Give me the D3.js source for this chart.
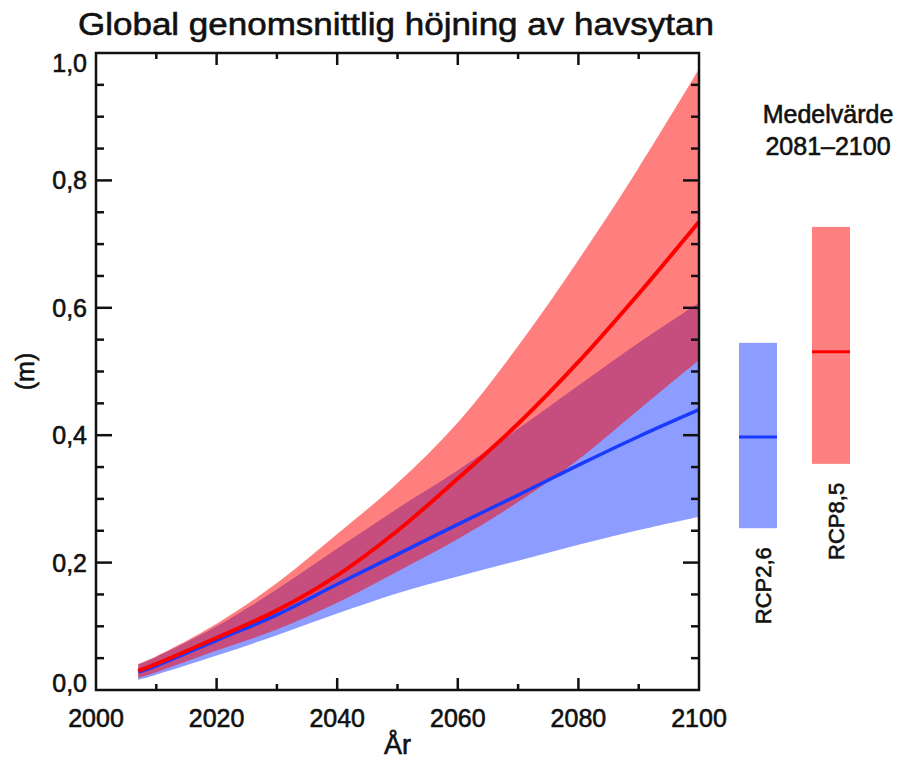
<!DOCTYPE html>
<html>
<head>
<meta charset="utf-8">
<script src="https://cdn.jsdelivr.net/npm/d3@7"></script>
<style>
  body { margin: 0; background: #fff; }
  text { font-family: "Liberation Sans", Arial, sans-serif; fill: #111; stroke: #111; stroke-width: 0.6px; }
</style>
</head>
<body>
<div id="chart"></div>
<script>
// data
const years = [2007, 2010, 2020, 2030, 2040, 2050, 2060, 2070, 2080, 2090, 2100];
const rcp26Mean = [0.028, 0.038, 0.078, 0.118, 0.166, 0.213, 0.26, 0.306, 0.353, 0.398, 0.44];
const rcp26Low  = [0.016, 0.024, 0.054, 0.086, 0.12, 0.152, 0.178, 0.203, 0.228, 0.251, 0.272];
const rcp26High = [0.04, 0.052, 0.1, 0.158, 0.222, 0.285, 0.345, 0.41, 0.478, 0.545, 0.608];
const rcp85Mean = [0.03, 0.041, 0.082, 0.125, 0.18, 0.25, 0.332, 0.418, 0.515, 0.622, 0.735];
const rcp85Low  = [0.019, 0.028, 0.062, 0.095, 0.137, 0.186, 0.237, 0.295, 0.362, 0.44, 0.518];
const rcp85High = [0.041, 0.053, 0.104, 0.168, 0.245, 0.325, 0.42, 0.54, 0.675, 0.82, 0.975];

// mean 2081-2100
const scenarios = ["RCP2,6", "RCP8,5"];
const periodMean = [0.397, 0.531];
const periodLow = [0.254, 0.355];
const periodHigh = [0.545, 0.727];

const xTicks = [2000, 2020, 2040, 2060, 2080, 2100];
const yTicks = [0, 0.2, 0.4, 0.6, 0.8, 1.0];

const W = 900, H = 762;
const m = { top: 53, right: 201, bottom: 72, left: 96 };

const svg = d3.select("#chart").append("svg").attr("width", W).attr("height", H);

const x = d3.scaleLinear().domain([2000, 2100]).range([m.left, W - m.right]);
const y = d3.scaleLinear().domain([0, 1]).range([H - m.bottom, m.top]);

const fmt = d => d3.format(".1f")(d).replace(".", ",");

// bands
const toRows = (lo, hi, mean) => years.map((yr, i) => ({ yr, lo: lo[i], hi: hi[i], mean: mean[i] }));
const r26 = toRows(rcp26Low, rcp26High, rcp26Mean);
const r85 = toRows(rcp85Low, rcp85High, rcp85Mean);

const curve = d3.curveCatmullRom.alpha(0.5);
const area = d3.area().x(d => x(d.yr)).y0(d => y(d.lo)).y1(d => y(d.hi)).curve(curve);
const line = d3.line().x(d => x(d.yr)).y(d => y(d.mean)).curve(curve);

svg.append("path").datum(r26).attr("d", area).attr("fill", "#8c9dff");
svg.append("path").datum(r85).attr("d", area).attr("fill", "#ff0000").attr("fill-opacity", 0.5);
svg.append("path").datum(r26).attr("d", line).attr("fill", "none").attr("stroke", "#1a3aff").attr("stroke-width", 3.5);
svg.append("path").datum(r85).attr("d", line).attr("fill", "none").attr("stroke", "#ff0000").attr("stroke-width", 4);

// frame + ticks (inside on all four sides)
const g = svg.append("g").attr("stroke", "#111").attr("stroke-width", 2.5);
g.append("rect").attr("x", x(2000)).attr("y", y(1)).attr("width", x(2100) - x(2000)).attr("height", y(0) - y(1))
  .attr("fill", "none");

const xMinor = d3.range(2010, 2100, 20);
const yMinor = d3.range(0.05, 1, 0.05).filter(v => Math.abs(v * 5 - Math.round(v * 5)) > 1e-6);

xTicks.slice(1, -1).forEach(t => {
  g.append("line").attr("x1", x(t)).attr("x2", x(t)).attr("y1", y(0)).attr("y2", y(0) - 12);
  g.append("line").attr("x1", x(t)).attr("x2", x(t)).attr("y1", y(1)).attr("y2", y(1) + 12);
});
xMinor.forEach(t => {
  g.append("line").attr("x1", x(t)).attr("x2", x(t)).attr("y1", y(0)).attr("y2", y(0) - 6);
  g.append("line").attr("x1", x(t)).attr("x2", x(t)).attr("y1", y(1)).attr("y2", y(1) + 6);
});
yTicks.slice(1, -1).forEach(t => {
  g.append("line").attr("x1", x(2000)).attr("x2", x(2000) + 16).attr("y1", y(t)).attr("y2", y(t));
  g.append("line").attr("x1", x(2100)).attr("x2", x(2100) - 16).attr("y1", y(t)).attr("y2", y(t));
});
yMinor.forEach(t => {
  g.append("line").attr("x1", x(2000)).attr("x2", x(2000) + 8).attr("y1", y(t)).attr("y2", y(t));
  g.append("line").attr("x1", x(2100)).attr("x2", x(2100) - 8).attr("y1", y(t)).attr("y2", y(t));
});

// tick labels
svg.append("g").selectAll("text").data(xTicks).join("text")
  .attr("x", d => x(d)).attr("y", y(0) + 37)
  .attr("text-anchor", "middle").attr("font-size", 25).text(d => d);

svg.append("g").selectAll("text").data(yTicks).join("text")
  .attr("x", x(2000) - 9)
  .attr("y", d => Math.min(Math.max(y(d), y(1) + 10), y(0) - 7))
  .attr("dy", "0.36em")
  .attr("text-anchor", "end").attr("font-size", 25).text(fmt);

// titles
svg.append("text").attr("x", 396).attr("y", 35).attr("text-anchor", "middle")
  .attr("font-size", 31).attr("textLength", 636).attr("lengthAdjust", "spacingAndGlyphs")
  .text("Global genomsnittlig höjning av havsytan");
svg.append("text").attr("x", (x(2000) + x(2100)) / 2).attr("y", 754).attr("text-anchor", "middle")
  .attr("font-size", 27).text("År");
svg.append("text").attr("transform", `translate(25,${(y(0) + y(1)) / 2}) rotate(-90)`)
  .attr("text-anchor", "middle").attr("dominant-baseline", "central").attr("font-size", 25).text("(m)");

// right panel
const bx = d3.scalePoint().domain(scenarios).range([758, 831]);
const bw = 38;
const barFill = ["#8c9dff", "#ff8080"];
const barLine = ["#1a3aff", "#ff0000"];

svg.append("text").attr("x", 828).attr("y", 123).attr("text-anchor", "middle").attr("font-size", 25).text("Medelvärde");
svg.append("text").attr("x", 828).attr("y", 155).attr("text-anchor", "middle").attr("font-size", 25).text("2081–2100");

scenarios.forEach((s, i) => {
  svg.append("rect").attr("x", bx(s) - bw / 2).attr("width", bw)
    .attr("y", y(periodHigh[i])).attr("height", y(periodLow[i]) - y(periodHigh[i]))
    .attr("fill", barFill[i]);
  svg.append("line").attr("x1", bx(s) - bw / 2).attr("x2", bx(s) + bw / 2)
    .attr("y1", y(periodMean[i])).attr("y2", y(periodMean[i]))
    .attr("stroke", barLine[i]).attr("stroke-width", 3);
  svg.append("text").attr("transform", `translate(${bx(s) + 5},${y(periodLow[i]) + 19}) rotate(-90)`)
    .attr("text-anchor", "end").attr("dominant-baseline", "central")
    .attr("font-size", 22).text(s);
});
</script>
</body>
</html>
